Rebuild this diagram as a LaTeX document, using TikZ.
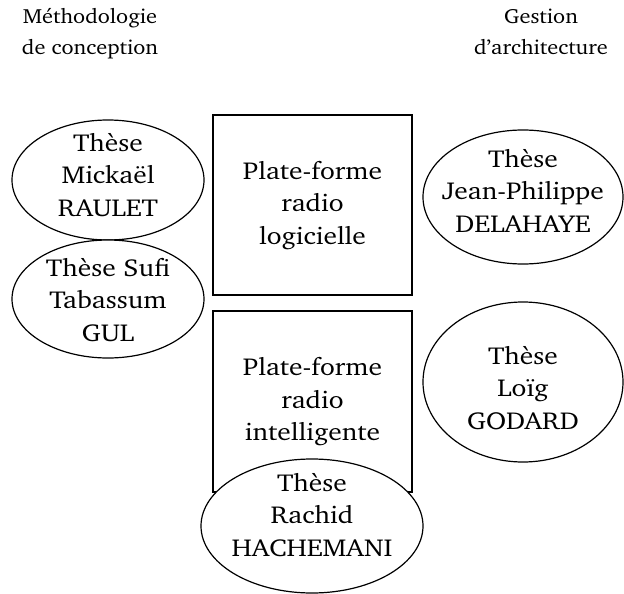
\documentclass[tikz,border=0pt]{standalone}
\usepackage[T1]{fontenc}
\usepackage{charter}
\usepackage{graphicx}
\usetikzlibrary{shapes.geometric}
\newcommand\etire[2]{\scalebox{#1}[1]{\begin{tabular}{@{}c@{}}#2\end{tabular}}}
\begin{document}
\begin{tikzpicture}[x=1pt,y=-1pt,
  every node/.style={font=\fontsize{24.5}{32.5}\selectfont, inner sep=0pt},
  titre/.style={font=\fontsize{20.5}{31}\selectfont},
  plat/.style={draw, line width=1.2pt, rectangle, minimum width=199pt},
  these/.style={draw, line width=1.2pt, ellipse, fill=white}]
\useasboundingbox (0,0) rectangle (624,594);
\node[titre] (t1) at (90,33) {\etire{1.09}{Méthodologie\\de conception}};
\node[titre] (t2) at (541,33) {\etire{1.09}{Gestion\\d'architecture}};
\node[plat, minimum height=180pt] (p1) at (312.5,205) {\etire{1.12}{Plate-forme\\radio\\logicielle}};
\node[plat, minimum height=181pt] (p2) at (312.5,401.5) {\etire{1.12}{Plate-forme\\radio\\intelligente}};
\node[these, minimum width=192pt, minimum height=120pt] (m) at (108,180) {};
\node (mt) at (108,177) {\etire{1.12}{Thèse\\Mickaël\\RAULET}};
\node[these, minimum width=192pt, minimum height=118pt] (s) at (108,299) {};
\node (st) at (108,302) {\etire{1.12}{Thèse Sufi\\Tabassum\\GUL}};
\node[these, minimum width=200pt, minimum height=134pt] (j) at (523,197) {};
\node (jt) at (523,193) {\etire{1.12}{Thèse\\Jean-Philippe\\DELAHAYE}};
\node[these, minimum width=200pt, minimum height=160pt] (l) at (523,382) {};
\node (lt) at (523,390) {\etire{1.12}{Thèse\\Loïg\\GODARD}};
\node[these, minimum width=222pt, minimum height=134pt] (r) at (312,526) {};
\node (rt) at (312,517) {\etire{1.12}{Thèse\\Rachid\\HACHEMANI}};
\end{tikzpicture}
\end{document}
